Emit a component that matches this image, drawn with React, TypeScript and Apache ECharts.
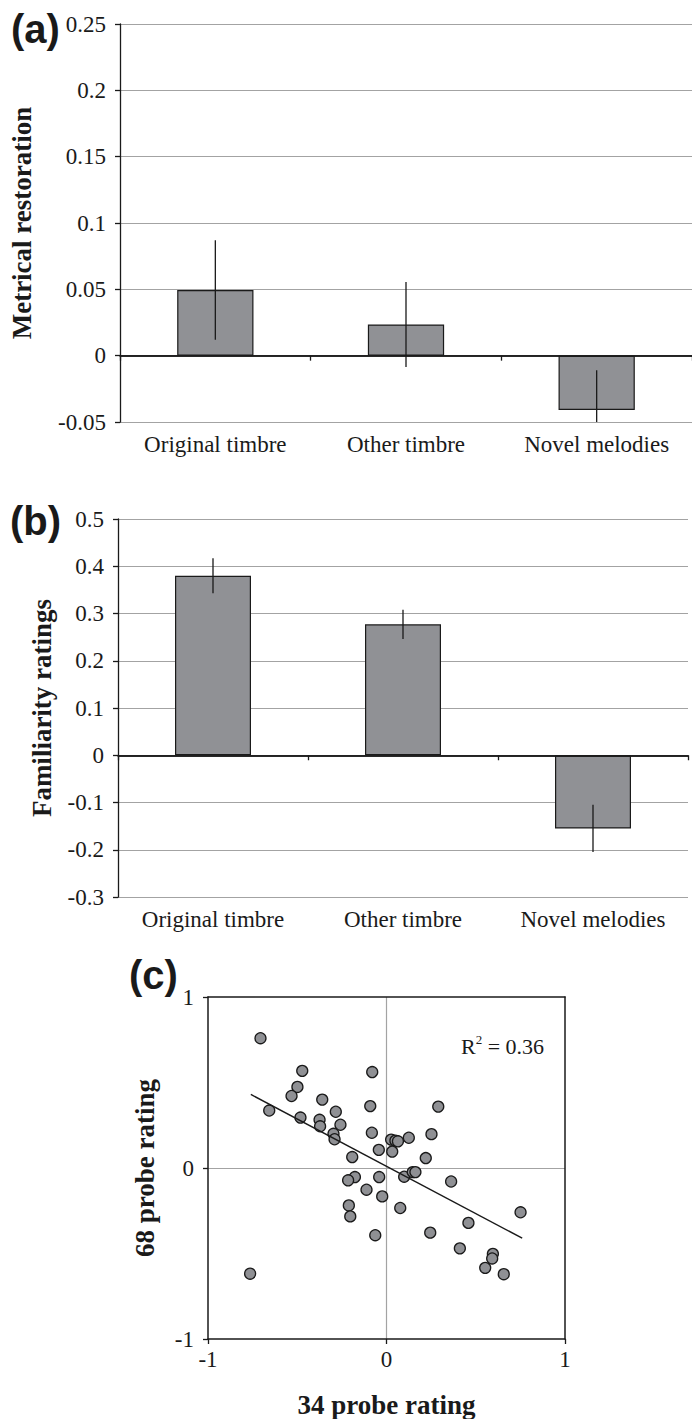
import React, { useEffect, useRef } from "react";
import * as echarts from "echarts";

// Condition labels shared by the two bar panels
const categories = ["Original timbre", "Other timbre", "Novel melodies"];

// (a) metrical restoration: means and error half-widths
const metricalMeans = [0.0495, 0.0235, -0.041];
const metricalErr = [0.0375, 0.032, 0.03];

// (b) familiarity ratings: means and error half-widths
const familiarityMeans = [0.38, 0.277, -0.155];
const familiarityErr = [0.037, 0.031, 0.05];

// (c) per-item ratings: 34-probe vs 68-probe
const probe34 = [
  -0.706, -0.472, -0.08, -0.499, -0.532, -0.36, -0.091, 0.29, -0.657, -0.284,
  -0.482, -0.375, -0.258, -0.372, -0.297, -0.082, 0.252, 0.125, -0.291, 0.026,
  0.05, 0.064, -0.043, 0.032, -0.192, 0.22, -0.177, -0.215, -0.041, 0.099,
  0.147, 0.162, 0.362, -0.112, -0.024, -0.211, 0.077, -0.203, 0.751, 0.459,
  0.245, -0.063, 0.411, 0.596, 0.592, 0.553, 0.657, -0.764,
];
const probe68 = [
  0.759, 0.568, 0.561, 0.474, 0.421, 0.4, 0.362, 0.359, 0.336, 0.329,
  0.295, 0.282, 0.253, 0.244, 0.2, 0.206, 0.198, 0.177, 0.168, 0.166,
  0.16, 0.156, 0.106, 0.096, 0.064, 0.058, -0.053, -0.072, -0.053, -0.051,
  -0.024, -0.024, -0.079, -0.127, -0.166, -0.219, -0.234, -0.283, -0.259, -0.321,
  -0.378, -0.393, -0.47, -0.502, -0.529, -0.584, -0.621, -0.618,
];
// Least-squares fit end points
const fitLine = [
  [-0.76, 0.43],
  [0.76, -0.41],
];
const rSquared = "0.36";

const SERIF = "'Liberation Serif', 'Times New Roman', serif";
const SANS = "'Liberation Sans', Arial, sans-serif";
const INK = "#1a1a1a";
const GRID_GRAY = "#a3a3a3";
const BAR_GRAY = "#909195";

const tickLabel = { fontFamily: SERIF, fontSize: 23, color: INK };
const titleText = { fontFamily: SERIF, fontSize: 27, fontWeight: "bold", color: INK };

function errorRenderer(params: any, api: any) {
  const idx = api.value(0);
  const lo = api.coord([idx, api.value(1)]);
  const hi = api.coord([idx, api.value(2)]);
  return {
    type: "line",
    shape: { x1: lo[0], y1: lo[1], x2: hi[0], y2: hi[1] },
    style: { stroke: INK, lineWidth: 1.3 },
  };
}

function barAxes(gridIndex: number) {
  return [
    {
      type: "category",
      gridIndex,
      data: categories,
      position: "bottom",
      z: 3,
      axisLine: { show: true, onZero: true, lineStyle: { color: INK, width: 1.5 } },
      axisTick: { show: true, length: 5, lineStyle: { color: INK, width: 1.3 } },
      axisLabel: { show: false },
      splitLine: { show: false },
    },
    {
      type: "category",
      gridIndex,
      data: categories,
      position: "bottom",
      axisLine: { show: false, onZero: false },
      axisTick: { show: false },
      axisLabel: { ...tickLabel, margin: 11 },
      splitLine: { show: false },
    },
  ];
}

function barYAxis(gridIndex: number, min: number, max: number, interval: number, name: string, nameGap: number) {
  return {
    type: "value",
    gridIndex,
    min,
    max,
    interval,
    name,
    nameLocation: "middle",
    nameRotate: 90,
    nameGap,
    nameTextStyle: titleText,
    axisLine: { show: true, lineStyle: { color: INK, width: 1.3 } },
    axisTick: { show: true, length: 5, lineStyle: { color: INK, width: 1.3 } },
    axisLabel: { ...tickLabel, margin: 14 },
    splitLine: { show: true, lineStyle: { color: GRID_GRAY, width: 1.2 } },
  };
}

function barSeries(xAxisIndex: number, yAxisIndex: number, means: number[], errs: number[]) {
  return [
    {
      type: "bar",
      xAxisIndex,
      yAxisIndex,
      data: means,
      barWidth: "40%",
      itemStyle: { color: BAR_GRAY, borderColor: INK, borderWidth: 1.2 },
      markLine: {
        silent: true,
        symbol: "none",
        label: { show: false },
        lineStyle: { color: INK, width: 1.5, type: "solid" },
        data: [{ yAxis: 0 }],
      },
    },
    {
      type: "custom",
      xAxisIndex,
      yAxisIndex,
      clip: true,
      renderItem: errorRenderer,
      data: means.map((m, i) => [i, m - errs[i], m + errs[i]]),
      z: 4,
    },
  ];
}

export default function App() {
  const ref = useRef<HTMLDivElement>(null);

  useEffect(() => {
    document.body.style.margin = "0";
    const chart = echarts.init(ref.current!, undefined, { renderer: "svg" });
    const option: any = {
      animation: false,
      backgroundColor: "#ffffff",
      grid: [
        { left: 119, top: 24, width: 582, height: 398 },
        { left: 118, top: 519, width: 570, height: 378 },
        { left: 208, top: 997, width: 357, height: 353 },
      ],
      xAxis: [
        ...barAxes(0),
        ...barAxes(1),
        {
          type: "value",
          gridIndex: 2,
          min: -1,
          max: 1,
          interval: 1,
          position: "bottom",
          z: 3,
          name: "34 probe rating",
          nameLocation: "middle",
          nameGap: 52,
          nameTextStyle: titleText,
          axisLine: { show: true, onZero: false, lineStyle: { color: INK, width: 1.5 } },
          axisTick: { show: true, length: 5, lineStyle: { color: INK, width: 1.3 } },
          axisLabel: { ...tickLabel, margin: 9 },
          splitLine: { show: true, showMinLine: false, showMaxLine: false, lineStyle: { color: GRID_GRAY, width: 1.2 } },
        },
        {
          type: "value",
          gridIndex: 2,
          min: -1,
          max: 1,
          position: "top",
          z: 3,
          axisLine: { show: true, onZero: false, lineStyle: { color: INK, width: 1.5 } },
          axisTick: { show: false },
          axisLabel: { show: false },
          splitLine: { show: false },
        },
      ],
      yAxis: [
        barYAxis(0, -0.05, 0.25, 0.05, "Metrical restoration", 85),
        barYAxis(1, -0.3, 0.5, 0.1, "Familiarity ratings", 63),
        {
          type: "value",
          gridIndex: 2,
          min: -1,
          max: 1,
          interval: 1,
          position: "left",
          z: 3,
          name: "68 probe rating",
          nameLocation: "middle",
          nameRotate: 90,
          nameGap: 50,
          nameTextStyle: titleText,
          axisLine: { show: true, onZero: false, lineStyle: { color: INK, width: 1.5 } },
          axisTick: { show: true, length: 5, lineStyle: { color: INK, width: 1.3 } },
          axisLabel: { ...tickLabel, margin: 14 },
          splitLine: { show: true, showMinLine: false, showMaxLine: false, lineStyle: { color: GRID_GRAY, width: 1.2 } },
        },
        {
          type: "value",
          gridIndex: 2,
          min: -1,
          max: 1,
          position: "right",
          z: 3,
          axisLine: { show: true, onZero: false, lineStyle: { color: INK, width: 1.5 } },
          axisTick: { show: false },
          axisLabel: { show: false },
          splitLine: { show: false },
        },
      ],
      series: [
        ...barSeries(0, 0, metricalMeans, metricalErr),
        ...barSeries(2, 1, familiarityMeans, familiarityErr),
        {
          type: "scatter",
          xAxisIndex: 4,
          yAxisIndex: 2,
          symbol: "circle",
          symbolSize: 11,
          data: probe34.map((x, i) => [x, probe68[i]]),
          itemStyle: { color: "#8f9094", borderColor: INK, borderWidth: 1.3, opacity: 1 },
          z: 3,
        },
        {
          type: "line",
          xAxisIndex: 4,
          yAxisIndex: 2,
          data: fitLine,
          showSymbol: false,
          symbol: "none",
          lineStyle: { color: INK, width: 1.4 },
          z: 4,
        },
      ],
      graphic: [
        { type: "text", left: 11, top: 9, style: { text: "(a)", font: `bold 40px ${SANS}`, fill: INK } },
        { type: "text", left: 10, top: 501, style: { text: "(b)", font: `bold 40px ${SANS}`, fill: INK } },
        { type: "text", left: 129, top: 955, style: { text: "(c)", font: `bold 40px ${SANS}`, fill: INK } },
        {
          type: "text",
          left: 461,
          top: 1033,
          style: {
            text: `{r|R}{s|2}{r| = ${rSquared}}`,
            fill: INK,
            rich: {
              r: { fontFamily: SERIF, fontSize: 22, lineHeight: 26, fill: INK },
              s: { fontFamily: SERIF, fontSize: 13, lineHeight: 26, verticalAlign: "top", fill: INK, padding: [0, 0, 10, 0] },
            },
          },
        },
      ],
    };
    chart.setOption(option);
    return () => chart.dispose();
  }, []);

  return <div ref={ref} style={{ width: 692, height: 1419, position: "absolute", left: 0, top: 0 }} />;
}
